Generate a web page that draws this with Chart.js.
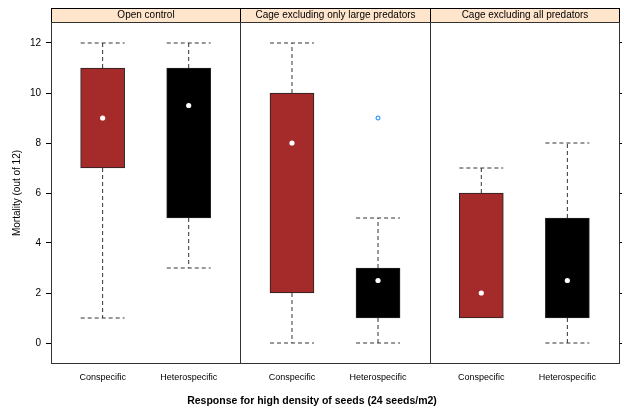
<!DOCTYPE html>
<html>
<head>
<meta charset="utf-8">
<script src="https://cdn.jsdelivr.net/npm/chart.js@4"></script>
<style>
  html, body { margin: 0; padding: 0; background: #fff; }
  #wrap { width: 624px; height: 410px; position: relative; }
</style>
</head>
<body>
<div id="wrap"><canvas id="myChart" width="624" height="410"></canvas></div>
<script>
/*******************************
* DATA
********************************/
var panels = ['Open control', 'Cage excluding only large predators', 'Cage excluding all predators'];
var groups = ['Conspecific', 'Heterospecific'];
var yTicks = [0, 2, 4, 6, 8, 10, 12];

// one entry per box: panel 1 (C, H), panel 2 (C, H), panel 3 (C, H)
var lowWhisker    = [1, 3, 0, 0, 1, 0];
var lowerQuartile = [7, 5, 2, 1, 1, 1];
var medians       = [9, 9.5, 8, 2.5, 2, 2.5];
var upperQuartile = [11, 11, 10, 3, 6, 5];
var highWhisker   = [12, 12, 12, 5, 7, 8];
var outliers      = [[], [], [], [9], [], []];

(function(){
  var FONT = '"Liberation Sans", Arial, sans-serif';
  var PANEL_W = 2.2;   // x units per panel
  var CAP = 0.255;     // half width of whisker caps, x units
  var boxColors = ['#a52a2a', '#000000'];

  // x position of box i
  function boxX(i) {
    var p = Math.floor(i / groups.length), g = i % groups.length;
    return p * PANEL_W + 0.6 + g;
  }

  var boxData = [], medianData = [], outlierData = [], stemData = [], capData = [];
  medians.forEach(function(m, i){
    var x = boxX(i);
    boxData.push({ x: x, y: [lowerQuartile[i], upperQuartile[i]] });
    medianData.push({ x: x, y: m });
    outliers[i].forEach(function(v){ outlierData.push({ x: x, y: v }); });
    if (highWhisker[i] > upperQuartile[i]) {
      stemData.push({ x: x, y: upperQuartile[i] }, { x: x, y: highWhisker[i] }, { x: x, y: null });
      capData.push({ x: x - CAP, y: highWhisker[i] }, { x: x + CAP, y: highWhisker[i] }, { x: x, y: null });
    }
    if (lowWhisker[i] < lowerQuartile[i]) {
      stemData.push({ x: x, y: lowerQuartile[i] }, { x: x, y: lowWhisker[i] }, { x: x, y: null });
      capData.push({ x: x - CAP, y: lowWhisker[i] }, { x: x + CAP, y: lowWhisker[i] }, { x: x, y: null });
    }
  });

  /*******************************
  * Panel frames and strips
  ********************************/
  var lattice = {
    id: 'lattice',
    beforeDatasetsDraw: function(chart) {
      var c = chart.ctx, a = chart.chartArea, xs = chart.scales.x;
      c.save();
      c.font = '10px ' + FONT;
      c.textAlign = 'center';
      c.textBaseline = 'middle';
      for (var p = 0; p < panels.length; p++) {
        var l = Math.round(xs.getPixelForValue(p * PANEL_W)) + 0.5;
        var r = Math.round(xs.getPixelForValue((p + 1) * PANEL_W)) + 0.5;
        c.fillStyle = '#ffe5cc';
        c.fillRect(l, 8.5, r - l, a.top - 8.5);
        c.strokeStyle = '#000';
        c.lineWidth = 1;
        c.strokeRect(l, 8.5, r - l, Math.round(a.top) - 8);
        c.fillStyle = '#000';
        c.fillText(panels[p], (l + r) / 2, (8 + a.top) / 2 + 0.5);
        c.strokeStyle = '#333';
        c.strokeRect(l, Math.round(a.top) + 0.5, r - l, Math.round(a.bottom - a.top) - 1);
      }
      c.restore();
    }
  };

  var ctx = document.getElementById('myChart');

  var myChart = new Chart(ctx, {
    type: 'bar',
    data: {
      datasets: [
        {
          type: 'scatter',
          label: 'Whisker',
          data: stemData,
          showLine: true,
          spanGaps: false,
          borderColor: '#333',
          borderWidth: 1,
          borderDash: [4, 3],
          pointRadius: 0,
          order: 3
        },
        {
          type: 'scatter',
          label: 'Cap',
          data: capData,
          showLine: true,
          spanGaps: false,
          borderColor: '#333',
          borderWidth: 1,
          borderDash: [4, 3],
          pointRadius: 0,
          order: 3
        },
        {
          label: 'Box',
          data: boxData,
          backgroundColor: medians.map(function(m, i){ return boxColors[i % 2]; }),
          borderColor: '#222',
          borderWidth: 1,
          borderSkipped: false,
          barThickness: 44,
          order: 2
        },
        {
          type: 'scatter',
          label: 'Median',
          data: medianData,
          pointRadius: 2.6,
          pointBackgroundColor: '#fff',
          pointBorderWidth: 0,
          order: 1
        },
        {
          type: 'scatter',
          label: 'Outlier',
          data: outlierData,
          pointRadius: 2,
          pointBackgroundColor: 'rgba(0,0,0,0)',
          pointBorderColor: '#0080ff',
          pointBorderWidth: 1,
          order: 1
        }
      ]
    },
    options: {
      responsive: false,
      animation: false,
      events: [],
      layout: { padding: { top: 22, left: 0, right: 0, bottom: 0 } },
      plugins: {
        legend: { display: false },
        tooltip: { enabled: false },
        title: {
          display: true,
          position: 'bottom',
          text: 'Response for high density of seeds (24 seeds/m2)',
          color: '#000',
          font: { family: FONT, size: 10.5, weight: 'bold', lineHeight: 1.2 },
          padding: { top: 0, bottom: 3 }
        }
      },
      scales: {
        x: {
          type: 'linear',
          offset: false,
          min: 0,
          max: panels.length * PANEL_W,
          afterBuildTicks: function(scale) {
            scale.ticks = medians.map(function(m, i){ return { value: boxX(i) }; });
          },
          ticks: {
            autoSkip: false,
            maxRotation: 0,
            padding: 8,
            color: '#000',
            font: { family: FONT, size: 9 },
            callback: function(v, idx) { return groups[idx % groups.length]; }
          },
          grid: { display: true, offset: false, drawOnChartArea: false, drawTicks: false, tickLength: 0 },
          border: { display: false },
          afterFit: function(scale) {
            scale.height = 30.4;
            scale.paddingLeft = 0;
            scale.paddingRight = 0;
          }
        },
        y: {
          type: 'linear',
          min: -0.84,
          max: 12.84,
          afterBuildTicks: function(scale) {
            scale.ticks = yTicks.map(function(v){ return { value: v }; });
          },
          ticks: {
            padding: 5,
            color: '#000',
            font: { family: FONT, size: 10 }
          },
          grid: { drawOnChartArea: false, drawTicks: true, tickLength: 5, color: '#000' },
          border: { display: false },
          title: {
            display: true,
            text: 'Mortality (out of 12)',
            color: '#000',
            font: { family: FONT, size: 10 },
            padding: { top: 11, bottom: 0 }
          },
          afterFit: function(scale) {
            scale.width = 51;
            scale.paddingTop = 0;
            scale.paddingBottom = 0;
          }
        },
        y2: {
          type: 'linear',
          position: 'right',
          min: -0.84,
          max: 12.84,
          afterBuildTicks: function(scale) {
            scale.ticks = yTicks.map(function(v){ return { value: v }; });
          },
          ticks: { display: false },
          grid: { drawOnChartArea: false, drawTicks: true, tickLength: 3, color: '#000' },
          border: { display: false },
          afterFit: function(scale) {
            scale.width = 3;
            scale.paddingTop = 0;
            scale.paddingBottom = 0;
          }
        }
      }
    },
    plugins: [lattice]
  });
})();
</script>
</body>
</html>
